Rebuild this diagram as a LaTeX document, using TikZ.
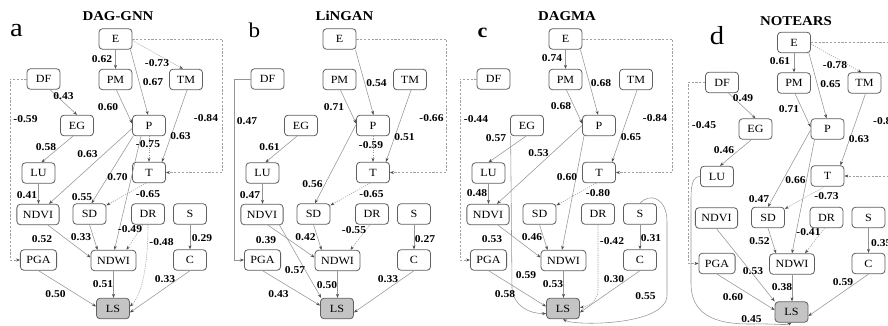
\documentclass[tikz,border=0pt]{standalone}
\usepackage{fontspec}
\setmainfont{Liberation Serif}[FakeStretch=1.1]
\usetikzlibrary{arrows.meta,calc}
\definecolor{boxline}{HTML}{606060}
\definecolor{edgeline}{HTML}{959595}
\definecolor{negline}{HTML}{A0A0A0}
\definecolor{lsfill}{HTML}{C4C4C4}
\tikzset{
  nbox/.style={draw=boxline, line width=0.8pt, rounded corners=3.5pt, fill=white,
    minimum width=33pt, minimum height=20.5pt, inner xsep=6pt, inner ysep=0pt,
    font=\fontsize{11}{13}\selectfont},
  lsbox/.style={nbox, fill=lsfill},
  posedge/.style={draw=edgeline, line width=0.55pt, -{Stealth[length=4pt,width=3pt,color=black!70]}},
  negedge/.style={posedge, draw=negline, dash pattern=on 1.2pt off 1.1pt},
  negroute/.style={posedge, draw=negline, dash pattern=on 2.2pt off 1.6pt},
  lab/.style={inner sep=0pt, font=\bfseries\fontsize{10.5}{12}\selectfont},
  ttl/.style={inner sep=0pt, font=\bfseries\fontsize{13.5}{15}\selectfont},
}
% edge weight labels, numbered automatically
\newcount\labn
\newcommand\lab[3]{\global\advance\labn by 1\relax\node[lab] (lab\the\labn) at (#1,#2) {#3};}
% the sixteen variables of one causal graph, names prefixed by #1
\newcommand\placeboxes[1]{%
  \node[nbox] (#1E) at (115.5,39) {E};
  \node[nbox] (#1PM) at (115.5,79.5) {PM};
  \node[nbox] (#1TM) at (186,79.5) {TM};
  \node[nbox] (#1DF) at (43.5,79) {DF};
  \node[nbox] (#1EG) at (77,125.5) {EG};
  \node[nbox] (#1P) at (149,125.5) {P};
  \node[nbox] (#1T) at (149,172.5) {T};
  \node[nbox] (#1LU) at (38.5,173) {LU};
  \node[nbox] (#1NDVI) at (38,214.5) {NDVI};
  \node[nbox] (#1SD) at (89.5,214) {SD};
  \node[nbox] (#1DR) at (148,214) {DR};
  \node[nbox] (#1S) at (190,214) {S};
  \node[nbox] (#1PGA) at (38.5,260) {PGA};
  \node[nbox] (#1NDWI) at (113.5,260.5) {NDWI};
  \node[nbox] (#1C) at (190,260) {C};
  \node[lsbox] (#1LS) at (113,308.5) {LS};
  \coordinate (#1R) at (222.5,0);
  \coordinate (#1L) at (10,0);
}
\begin{document}
\begin{tikzpicture}[x=1pt,y=-1pt]
\useasboundingbox (0,0) rectangle (888,326);
\fill[white] (0,0) rectangle (888,326);
\clip (0,0) rectangle (888,326);

% titles and panel letters
\node[ttl] (tA) at (118,16) {DAG-GNN};
\node[ttl] (tB) at (344.5,16) {LiNGAN};
\node[ttl] (tC) at (567,16) {DAGMA};
\node[ttl] (tD) at (796,21.5) {NOTEARS};
\node[inner sep=0pt, anchor=base, font=\fontsize{26}{28}\selectfont] (pa) at (16.5,37) {a};
\node[inner sep=0pt, anchor=base, font=\fontsize{21}{24}\selectfont] (pb) at (254.5,38) {b};
\node[inner sep=0pt, anchor=base, font=\bfseries\fontsize{20}{24}\selectfont] (pc) at (482.5,38) {c};
\node[inner sep=0pt, anchor=base, font=\fontsize{26}{28}\selectfont] (pd) at (717,45) {d};

% ---------------- a: DAG-GNN ----------------
\begin{scope}
\placeboxes{a}
\draw[posedge] (aE.south) -- (aPM.north); \lab{102}{59}{0.62}
\draw[negedge] ($(aE.east)+(0,1.5)$) -- ($(aTM.north)+(-3,0)$); \lab{157}{63.5}{-0.73}
\draw[posedge] ($(aE.south east)+(-2,0)$) -- ($(aP.north)+(-1,0)$); \lab{153}{82.5}{0.67}
\draw[negroute] (aE.east) -- (aE.east -| aR) |- (aT.east); \lab{206}{118.5}{-0.84}
\draw[posedge] ($(aDF.south)+(6.5,0)$) -- (aEG.north); \lab{63.5}{96}{0.43}
\draw[negroute] (aDF.west) -- (aDF.west -| aL) |- (aPGA.west); \lab{25.5}{119}{-0.59}
\draw[posedge] ($(aPM.south)+(1,0)$) -- ($(aP.west)+(0,-2)$); \lab{108}{107}{0.60}
\draw[posedge] ($(aTM.south)+(1,0)$) -- ($(aT.north)+(13,0)$); \lab{180.5}{136.5}{0.63}
\draw[posedge] ($(aEG.south)+(-4,0)$) -- ($(aLU.north)+(3,0)$); \lab{46}{147.5}{0.58}
\draw[negedge] (aP.south) -- (aT.north); \lab{148}{144.5}{-0.75}
\draw[posedge] ($(aP.west)+(0,3)$) -- ($(aNDVI.north)+(11,0)$); \lab{87.5}{154}{0.63}
\draw[posedge] ($(aP.south west)+(1,0)$) -- ($(aSD.north)+(2,0)$); \lab{82}{197}{0.55}
\draw[posedge] ($(aP.south)+(-8,0)$) -- ($(aNDWI.north)+(1,0)$); \lab{117.5}{177}{0.70}
\draw[negedge] ($(aT.south)+(-3,0)$) -- ($(aSD.north east)+(0,2)$); \lab{148}{194}{-0.65}
\draw[posedge] (aLU.south) -- (aLU.south |- aNDVI.north); \lab{27}{195.5}{0.41}
\draw[posedge] ($(aNDVI.south)+(10,0)$) -- ($(aNDWI.west)+(0,-3)$); \lab{42}{239}{0.52}
\draw[posedge] (aSD.south) -- ($(aNDWI.north)+(-16,0)$); \lab{81}{237.5}{0.33}
\draw[negedge] ($(aDR.south)+(-5,0)$) -- ($(aNDWI.north)+(13,0)$); \lab{130}{229}{-0.49}
\draw[negedge] (aDR.south) .. controls (148,265) and (142,295) .. ($(aLS.east)+(0,-2)$); \lab{161.5}{242.5}{-0.48}
\draw[posedge] (aS.south) -- (aC.north); \lab{202}{238}{0.29}
\draw[posedge] (aPGA.south) -- ($(aLS.west)+(0,-2)$); \lab{55.5}{294}{0.50}
\draw[posedge] (aNDWI.south) -- (aNDWI.south |- aLS.north); \lab{103}{284}{0.51}
\draw[posedge] (aC.south) -- ($(aLS.east)+(0,4)$); \lab{165}{279.5}{0.33}
\end{scope}

% ---------------- b: LiNGAN ----------------
\begin{scope}[shift={(224,0)}]
\placeboxes{b}
\draw[posedge] ($(bE.south east)+(-1,0)$) -- ($(bP.north)+(0.5,0)$); \lab{152.5}{83.5}{0.54}
\draw[negroute] (bE.east) -- (bE.east -| bR) |- (bT.east); \lab{207.5}{118.5}{-0.66}
\draw[posedge] (bDF.west) -- (bDF.west -| bL) |- (bPGA.west); \lab{23}{121.5}{0.47}
\draw[posedge] ($(bPM.south)+(1,0)$) -- ($(bP.west)+(0,-2)$); \lab{110}{107}{0.71}
\draw[posedge] ($(bTM.south)+(1,0)$) -- ($(bT.north)+(13,0)$); \lab{180.5}{137.5}{0.51}
\draw[posedge] ($(bEG.south)+(-4,0)$) -- ($(bLU.north)+(3,0)$); \lab{45.5}{147.5}{0.61}
\draw[negedge] (bP.south) -- (bT.north); \lab{147}{145.5}{-0.59}
\draw[posedge] ($(bP.west)+(0,-1)$) -- ($(bSD.north)+(1.5,0)$); \lab{88.5}{184}{0.56}
\draw[negedge] ($(bT.south)+(-3,0)$) -- ($(bSD.north east)+(0,2)$); \lab{147.5}{194.5}{-0.65}
\draw[posedge] (bLU.south) -- (bLU.south |- bNDVI.north); \lab{26}{195.5}{0.47}
\draw[posedge] ($(bNDVI.south)+(6,0)$) -- ($(bNDWI.west)+(0,-3)$); \lab{42}{240.5}{0.39}
\draw[posedge] ($(bNDVI.south east)+(-4,0)$) -- ($(bLS.north west)+(1,0)$); \lab{71}{270.5}{0.57}
\draw[posedge] (bSD.south) -- ($(bNDWI.north)+(-16,0)$); \lab{81.5}{237.5}{0.42}
\draw[negedge] ($(bDR.south)+(-2,0)$) -- ($(bNDWI.north)+(13,0)$); \lab{130}{230}{-0.55}
\draw[posedge] (bS.south) -- (bC.north); \lab{201}{239}{0.27}
\draw[posedge] (bPGA.south) -- ($(bLS.west)+(0,-3)$); \lab{54.5}{294}{0.43}
\draw[posedge] (bNDWI.south) -- (bNDWI.south |- bLS.north); \lab{103}{285}{0.50}
\draw[posedge] (bC.south) -- ($(bLS.east)+(0,4)$); \lab{164}{279.5}{0.33}
\end{scope}

% ---------------- c: DAGMA ----------------
\begin{scope}[shift={(450,0)}]
\placeboxes{c}
\draw[posedge] (cE.south) -- (cPM.north); \lab{102}{58.5}{0.74}
\draw[posedge] ($(cE.south east)+(-2,0)$) -- ($(cP.north)+(-1,0)$); \lab{151}{83}{0.68}
\draw[negroute] (cE.east) -- (cE.east -| cR) |- (cT.east); \lab{205}{118.5}{-0.84}
\draw[negroute] (cDF.west) -- (cDF.west -| cL) |- (cPGA.west); \lab{26}{119}{-0.44}
\draw[posedge] ($(cPM.south)+(1,0)$) -- ($(cP.west)+(0,-2)$); \lab{111}{106}{0.68}
\draw[posedge] ($(cTM.south)+(1,0)$) -- ($(cT.north)+(13,0)$); \lab{181}{137}{0.65}
\draw[posedge] ($(cEG.south)+(-1,0)$) -- (cLU.north); \lab{46}{138.5}{0.57}
\draw[posedge] ($(cEG.south west)+(0.5,0)$) -- (62,288) .. controls (63,306) and (80,314) .. ($(cLS.west)+(0,5)$); \lab{76}{275}{0.59}
\draw[posedge] (cP.west) -- ($(cNDVI.north)+(9,0)$); \lab{88.5}{153}{0.53}
\draw[posedge] ($(cP.south)+(-15,0)$) -- ($(cNDWI.north)+(-1.5,0)$); \lab{117}{177}{0.60}
\draw[negedge] ($(cT.south)+(-3,0)$) -- ($(cSD.north east)+(0,2)$); \lab{148}{193.5}{-0.80}
\draw[posedge] (cLU.south) -- (cLU.south |- cNDVI.north); \lab{27}{193.5}{0.48}
\draw[posedge] ($(cNDVI.south)+(10,0)$) -- ($(cNDWI.west)+(0,-3)$); \lab{42}{239}{0.53}
\draw[posedge] (cSD.south) -- ($(cNDWI.north)+(-16,0)$); \lab{82}{237.5}{0.46}
\draw[negedge] (cDR.south) -- (148,290) .. controls (148,300) and (140,306) .. ($(cLS.east)+(0,-1)$); \lab{162}{241.5}{-0.42}
\draw[posedge] (cS.south) -- (cC.north); \lab{201}{238.5}{0.31}
\draw[posedge] (cS.north) .. controls (200,192) and (217,198) .. (217,222) -- (217,295)
  .. controls (217,326) and (125,326) .. (cLS.south); \lab{195.5}{296}{0.55}
\draw[posedge] (cPGA.south) -- ($(cLS.west)+(0,-2)$); \lab{55}{294}{0.58}
\draw[posedge] (cNDWI.south) -- (cNDWI.south |- cLS.north); \lab{103}{284.5}{0.53}
\draw[posedge] (cC.south) -- ($(cLS.east)+(0,4)$); \lab{164}{279.5}{0.30}
\end{scope}

% ---------------- d: NOTEARS ----------------
\begin{scope}[shift={(678.5,3.5)}]
\placeboxes{d}
\draw[posedge] (dE.south) -- (dPM.north); \lab{101.5}{58}{0.61}
\draw[negedge] ($(dE.east)+(0,1.5)$) -- ($(dTM.north)+(-3,0)$); \lab{156.5}{61.5}{-0.78}
\draw[posedge] ($(dE.south east)+(-2,0)$) -- ($(dP.north)+(-1,0)$); \lab{152}{81}{0.65}
\draw[negroute] (dE.east) -- (dE.east -| dR) |- (dT.east);
\node[lab, anchor=west] (dl84) at (194.5,118) {-0.8};
\draw[posedge] ($(dDF.south)+(6.5,0)$) -- (dEG.north); \lab{64.5}{94.5}{0.49}
\draw[negroute] (dDF.west) -- ($(dDF.west -| dL)+(-0.5,0)$) |- (dPGA.west); \lab{25.5}{121.5}{-0.45}
\draw[posedge] ($(dPM.south)+(1,0)$) -- ($(dP.west)+(0,-2)$); \lab{110.5}{105.5}{0.71}
\draw[posedge] ($(dTM.south)+(1,0)$) -- ($(dT.north)+(13,0)$); \lab{180.5}{136}{0.63}
\draw[posedge] ($(dEG.south)+(-4,0)$) -- ($(dLU.north)+(3,0)$); \lab{45.5}{147}{0.46}
\draw[posedge] ($(dP.west)+(0,1)$) -- (dSD.north); \lab{80.5}{195.5}{0.47}
\draw[posedge] ($(dP.south)+(-13,0)$) -- (dNDWI.north); \lab{117}{176.5}{0.66}
\draw[negedge] ($(dT.south)+(-3,0)$) -- ($(dSD.north east)+(0,2)$); \lab{148}{193}{-0.73}
\draw[posedge] (dLU.west) .. controls (14,173) and (12.5,182) .. (12.5,195) -- (12.5,280)
  .. controls (12.5,316) and (45,321) .. (75,320.5) .. controls (95,320) and (108,322) .. (dLS.south);
  \lab{73}{316}{0.45}
\draw[posedge] (dNDVI.south) -- (dLS.north west); \lab{74.5}{268}{0.53}
\draw[posedge] (dSD.south) -- ($(dNDWI.north)+(-16,0)$); \lab{81}{237.5}{0.52}
\draw[negedge] ($(dDR.south)+(-2,0)$) -- ($(dNDWI.north)+(13,0)$); \lab{130}{229}{-0.41}
\draw[posedge] (dS.south) -- (dC.north);
\node[lab, anchor=west] (dl35) at (192.5,240) {0.35};
\draw[posedge] (dPGA.south) -- ($(dLS.west)+(0,-2)$); \lab{54.5}{293.5}{0.60}
\draw[posedge] (dNDWI.south) -- (dNDWI.south |- dLS.north); \lab{103.5}{284}{0.38}
\draw[posedge] (dC.south) -- ($(dLS.east)+(0,4)$); \lab{164.5}{279}{0.59}
\end{scope}
\end{tikzpicture}
\end{document}
